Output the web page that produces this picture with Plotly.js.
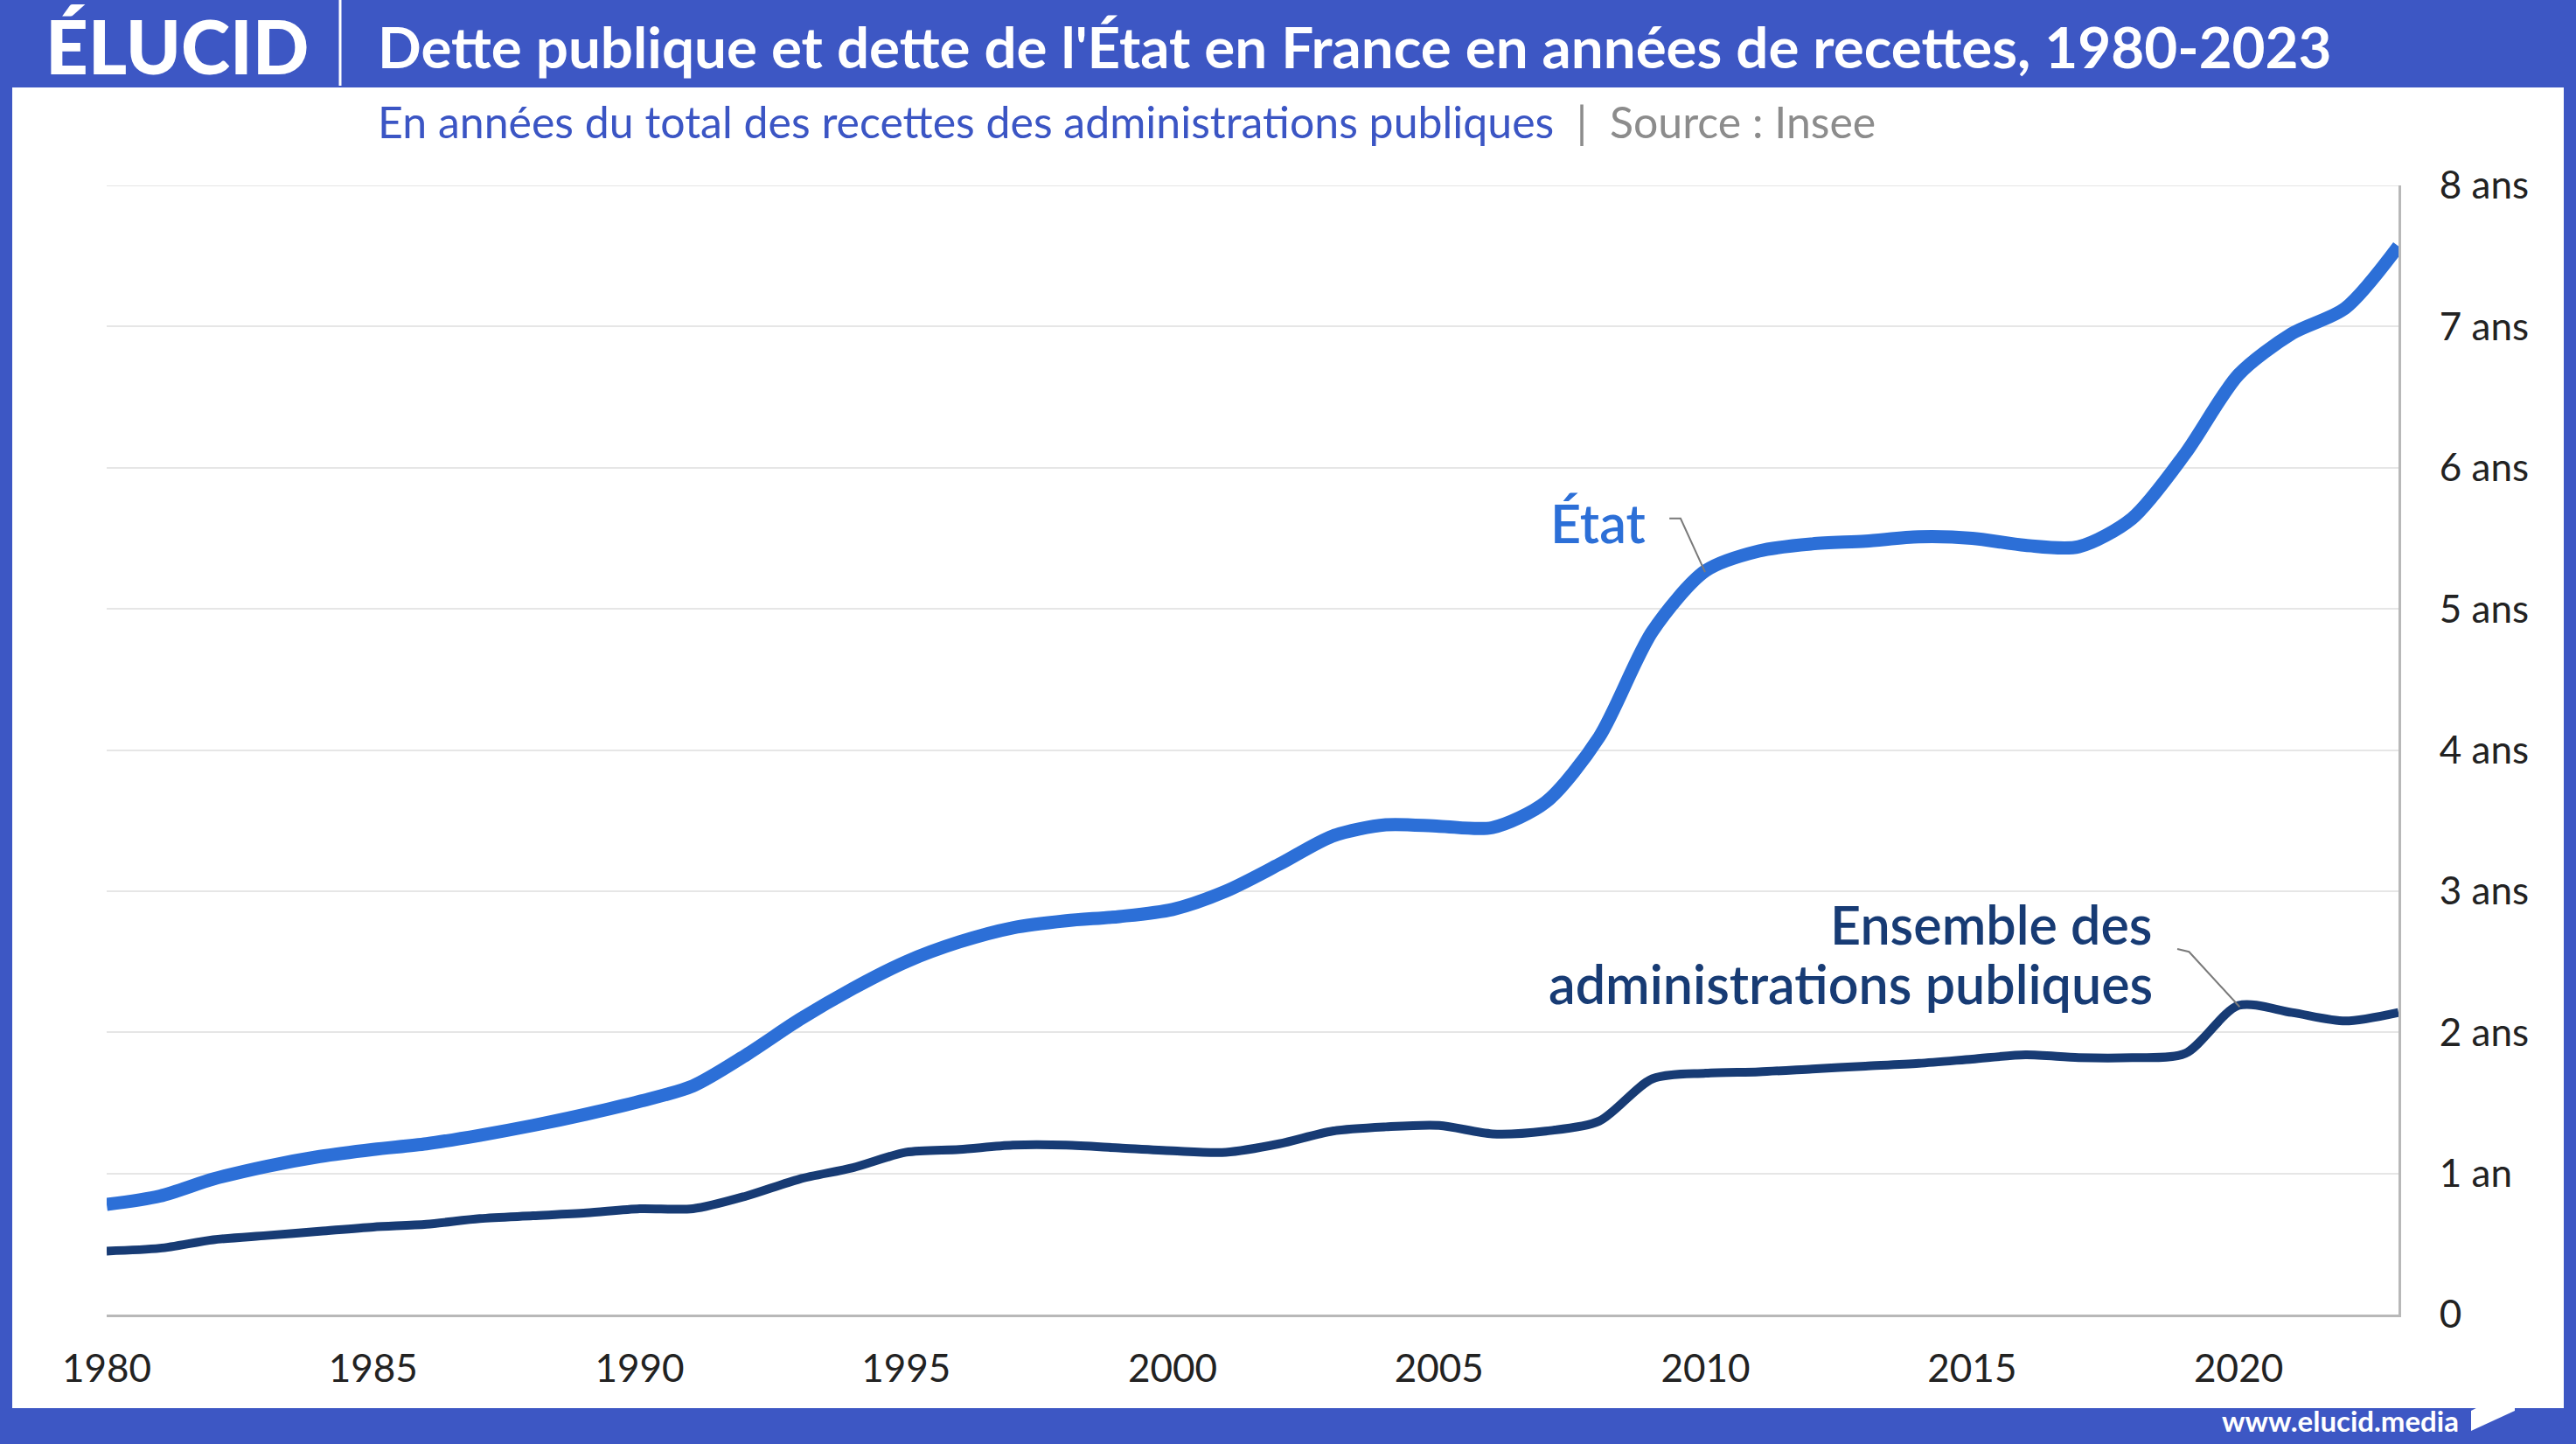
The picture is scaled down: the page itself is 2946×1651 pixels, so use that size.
<!DOCTYPE html>
<html>
<head>
<meta charset="utf-8">
<script src="https://cdn.plot.ly/plotly-3.0.1.min.js"></script>
<style>
  html, body { margin: 0; padding: 0; background: #ffffff; }
  #chart { width: 2946px; height: 1651px; }
</style>
</head>
<body>
<div id="chart"></div>
<script>
// ---- Data ----
const years = [1980,1981,1982,1983,1984,1985,1986,1987,1988,1989,
               1990,1991,1992,1993,1994,1995,1996,1997,1998,1999,
               2000,2001,2002,2003,2004,2005,2006,2007,2008,2009,
               2010,2011,2012,2013,2014,2015,2016,2017,2018,2019,
               2020,2021,2022,2023];
const etat = [0.78,0.84,0.96,1.05,1.12,1.17,1.21,1.27,1.34,1.42,
              1.51,1.62,1.84,2.09,2.31,2.50,2.64,2.74,2.79,2.82,
              2.87,3.00,3.19,3.39,3.47,3.46,3.45,3.63,4.09,4.84,
              5.27,5.41,5.46,5.48,5.51,5.50,5.45,5.44,5.64,6.10,
              6.66,6.95,7.13,7.57];
const apu  = [0.45,0.47,0.53,0.56,0.59,0.62,0.64,0.68,0.70,0.72,
              0.75,0.75,0.84,0.96,1.04,1.15,1.17,1.20,1.20,1.18,
              1.16,1.15,1.21,1.30,1.33,1.34,1.28,1.30,1.37,1.67,
              1.71,1.72,1.74,1.76,1.78,1.81,1.84,1.82,1.82,1.85,
              2.19,2.14,2.08,2.14];
const xTickVals = [1980,1985,1990,1995,2000,2005,2010,2015,2020];
const xTickText = ['1980','1985','1990','1995','2000','2005','2010','2015','2020'];
const yTickVals = [0,1,2,3,4,5,6,7,8];
const yTickText = ['0','1 an','2 ans','3 ans','4 ans','5 ans','6 ans','7 ans','8 ans'];

const titleText = "Dette publique et dette de l'État en France en années de recettes, 1980-2023";
const subtitleText = "En années du total des recettes des administrations publiques";
const sourceText = "Source : Insee";
const labelEtat = "État";
const labelApu1 = "Ensemble des";
const labelApu2 = "administrations publiques";

// ---- Layout geometry ----
const W = 2946, H = 1651;
const L = 122, R = 2743, T = 212, B = 1503;
const px = p => (p - L) / (R - L);
const py = p => (B - p) / (B - T);

const BLUE = '#3d57c4';
const C_ETAT = '#2c6fd7';
const C_APU = '#173b74';
const FONT = 'Lato, "Open Sans", sans-serif';

const traces = [
  {
    x: years, y: etat, type: 'scatter', mode: 'lines', name: labelEtat,
    line: { color: C_ETAT, width: 15, shape: 'spline', smoothing: 0.8 },
    hoverinfo: 'skip', cliponaxis: false
  },
  {
    x: years, y: apu, type: 'scatter', mode: 'lines', name: 'Ensemble des administrations publiques',
    line: { color: C_APU, width: 10, shape: 'spline', smoothing: 0.8 },
    hoverinfo: 'skip', cliponaxis: false
  }
];

// leader lines tied to the data points
const iE = years.indexOf(2010), iA = years.indexOf(2020);
const eX = years[iE], eY = etat[iE];
const aX = years[iA], aY = apu[iA];
const leaderE = `M ${eX-0.68},${eY+0.37} L ${eX-0.47},${eY+0.37} L ${eX-0.01},${eY-0.01}`;
const leaderA = `M ${aX-1.15},${aY+0.40} L ${aX-0.93},${aY+0.38} L ${aX+0.02},${aY-0.01}`;

const shapes = [
  // frame
  { type:'rect', xref:'paper', yref:'paper', x0:px(0), x1:px(W), y0:py(0), y1:py(100), fillcolor:BLUE, line:{width:0}, layer:'below' },
  { type:'rect', xref:'paper', yref:'paper', x0:px(0), x1:px(14), y0:py(0), y1:py(H), fillcolor:BLUE, line:{width:0}, layer:'below' },
  { type:'rect', xref:'paper', yref:'paper', x0:px(2932), x1:px(W), y0:py(0), y1:py(H), fillcolor:BLUE, line:{width:0}, layer:'below' },
  { type:'rect', xref:'paper', yref:'paper', x0:px(0), x1:px(W), y0:py(1610), y1:py(H), fillcolor:BLUE, line:{width:0}, layer:'below' },
  // separator in header
  { type:'line', xref:'paper', yref:'paper', x0:px(389), x1:px(389), y0:py(0), y1:py(98), line:{color:'#ffffff', width:3} },
  // top gridline (8 ans)
  { type:'line', xref:'paper', yref:'y', x0:0, x1:1, y0:8, y1:8, line:{color:'#e6e6e6', width:2}, layer:'below' },
  // footer logo mark
  { type:'path', xref:'paper', yref:'paper',
    path:`M ${px(2826)},${py(1613)} L ${px(2876)},${py(1587)} L ${px(2876)},${py(1613)} L ${px(2826)},${py(1636)} Z`,
    fillcolor:'#ffffff', line:{width:0} },
  // leader lines
  { type:'path', xref:'x', yref:'y', path: leaderE, line:{color:'#7a7a7a', width:2} },
  { type:'path', xref:'x', yref:'y', path: leaderA, line:{color:'#7a7a7a', width:2} }
];

const annotations = [
  { text:'ÉLUCID', xref:'paper', yref:'paper', x:px(50), y:py(52), xanchor:'left', yanchor:'middle', showarrow:false,
    font:{family:FONT, size:85, color:'#ffffff', weight:900} },
  { text:titleText, xref:'paper', yref:'paper', x:px(430), y:py(52), xanchor:'left', yanchor:'middle', showarrow:false,
    font:{family:FONT, size:65.5, color:'#ffffff', weight:700} },
  { text:`<span style="color:#3b55c4">${subtitleText}</span><span style="color:#8c8c8c">  |  ${sourceText}</span>`,
    xref:'paper', yref:'paper', x:px(430), y:py(139), xanchor:'left', yanchor:'middle', showarrow:false,
    font:{family:FONT, size:50, color:'#3b55c4'} },
  { text:labelEtat, xref:'paper', yref:'paper', x:px(1884), y:py(597), xanchor:'right', yanchor:'middle', showarrow:false,
    font:{family:FONT, size:61, color:C_ETAT, weight:600} },
  { text:labelApu1, xref:'paper', yref:'paper', x:px(2464), y:py(1056), xanchor:'right', yanchor:'middle', showarrow:false,
    font:{family:FONT, size:61, color:C_APU, weight:600} },
  { text:labelApu2, xref:'paper', yref:'paper', x:px(2464), y:py(1124), xanchor:'right', yanchor:'middle', showarrow:false,
    font:{family:FONT, size:61, color:C_APU, weight:600} },
  { text:'www.elucid.media', xref:'paper', yref:'paper', x:px(2814), y:py(1624), xanchor:'right', yanchor:'middle', showarrow:false,
    font:{family:FONT, size:33, color:'#ffffff', weight:700} }
];

const layout = {
  width: W, height: H,
  margin: { l: L, r: W - R, t: T, b: H - B, pad: 0 },
  paper_bgcolor: '#ffffff', plot_bgcolor: '#ffffff',
  showlegend: false,
  font: { family: FONT, color: '#222222' },
  xaxis: {
    range: [1980, 2023], tickvals: xTickVals, ticktext: xTickText,
    showgrid: false, zeroline: false,
    showline: true, linecolor: '#b8b8b8', linewidth: 3,
    ticks: 'outside', ticklen: 21, tickcolor: 'rgba(0,0,0,0)',
    tickfont: { family: FONT, size: 44, color: '#222222' },
    fixedrange: true
  },
  yaxis: {
    range: [0, 8], side: 'right', tickvals: yTickVals, ticktext: yTickText,
    showgrid: true, gridcolor: '#e6e6e6', gridwidth: 2, zeroline: false,
    showline: true, linecolor: '#b8b8b8', linewidth: 3,
    ticks: 'outside', ticklen: 35, tickcolor: 'rgba(0,0,0,0)',
    tickfont: { family: FONT, size: 44, color: '#222222' },
    fixedrange: true
  },
  shapes: shapes,
  annotations: annotations
};

Plotly.newPlot('chart', traces, layout, { displayModeBar: false, staticPlot: true });
</script>
</body>
</html>
